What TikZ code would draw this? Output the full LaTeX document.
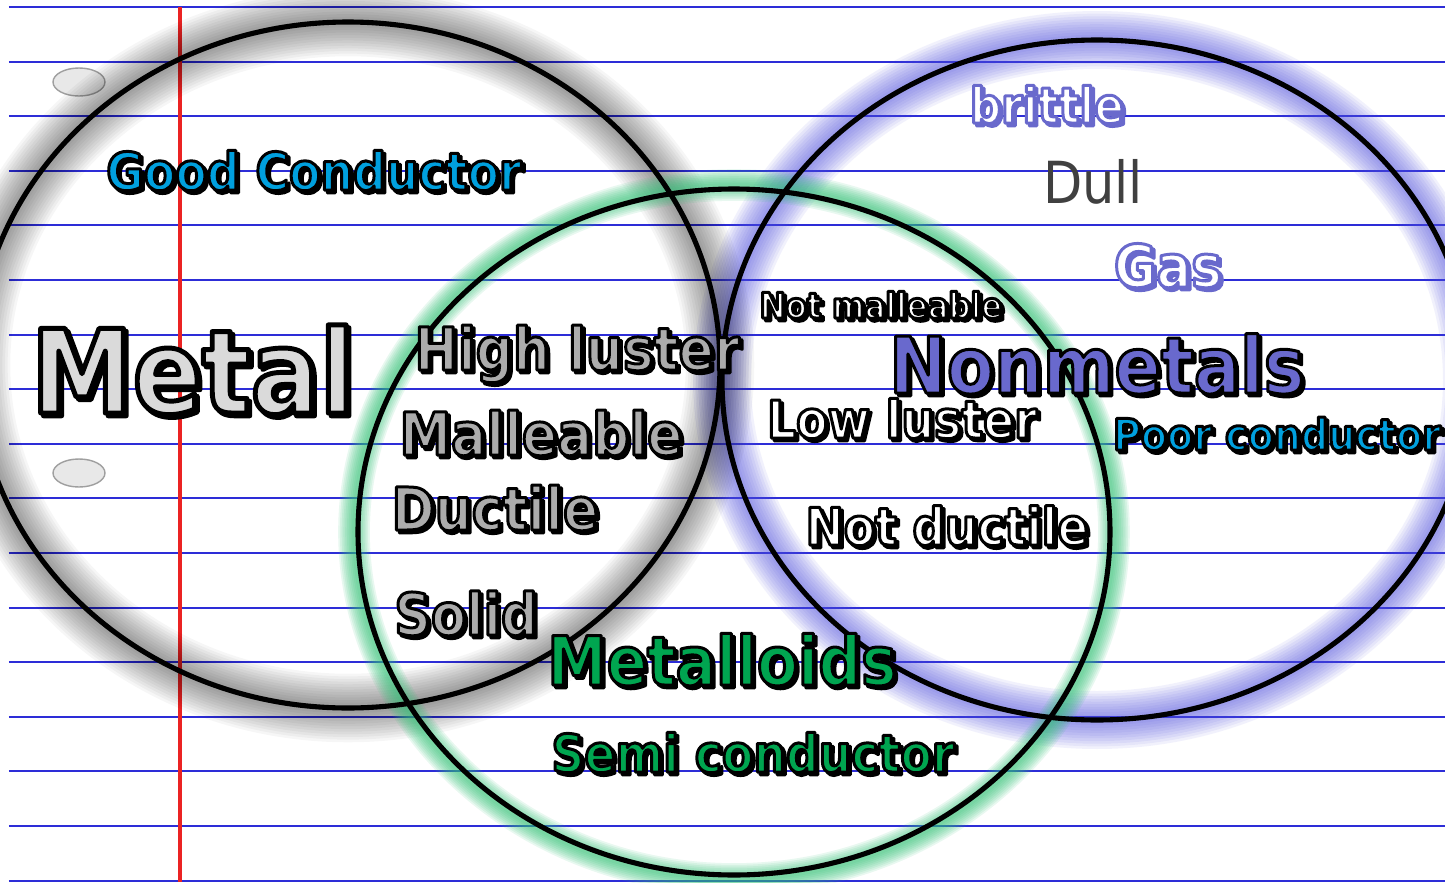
\documentclass[tikz,border=0pt]{standalone}
\usepackage{fontspec}
\usepackage{tikz}
\usetikzlibrary{calc}
\usepackage{xcolor}
\newfontfamily\vennfont{DejaVu Sans}[FakeStretch=0.88]
\definecolor{lineblue}{RGB}{45,45,215}
\definecolor{marginred}{RGB}{235,35,35}
\definecolor{condblue}{RGB}{0,160,222}
\definecolor{loidgreen}{RGB}{0,165,80}
\definecolor{nonpurple}{RGB}{105,105,205}
\definecolor{metalgray}{RGB}{172,172,172}
\definecolor{metallight}{RGB}{218,218,218}
\definecolor{dullgray}{RGB}{64,64,64}
\definecolor{glowgreen}{RGB}{50,195,120}
\definecolor{glowblue}{RGB}{80,80,225}
% stroked letters: fill in the current colour, outline rgb #1
\newcommand{\strokew}{0.85}
\newcommand{\outl}[2]{%
  \special{pdf:literal direct 1 j #1 RG \strokew\space w 2 Tr}#2%
  \special{pdf:literal direct 0 Tr}}
% fill, shadow colour, outline rgb, text
\newcommand{\fancy}[4]{%
  \rlap{\kern0.8pt\raisebox{-0.8pt}{\color{#2}\outl{#3}{#4}}}%
  {\color{#1}\outl{#3}{#4}}}

\begin{document}
\begin{tikzpicture}[x=1cm, y=1cm,
                    paperline/.style={lineblue, line width=0.6pt},
                    ring/.style={black, line width=1.45pt},
                    hole/.style={draw=gray!75, fill=gray!18, line width=0.4pt},
                    word/.style={inner sep=0pt, anchor=base,
                                 font=\vennfont\bfseries\fontsize{#1}{#1}\selectfont}]
  \useasboundingbox (0,0) rectangle (14.45,8.82);
  \clip (0,0) rectangle (14.45,8.82);
  \fill[white] (0,0) rectangle (14.45,8.82);
  % ruled sheet
  \foreach \k in {0,...,16}
    \draw[paperline] (0.09,8.75-0.546*\k) -- (14.45,8.75-0.546*\k);
  \draw[marginred, line width=0.9pt] (1.80,8.75) -- (1.80,0);
  \draw[hole] (0.79,8.00) ellipse [x radius=0.26, y radius=0.14];
  \draw[hole] (0.79,4.09) ellipse [x radius=0.26, y radius=0.14];
  % circle centres
  \coordinate (M) at (3.48,5.17);
  \coordinate (L) at (7.34,3.50);
  \coordinate (N) at (10.97,5.02);
  % soft halos
  \foreach \w in {1.5,3,...,16.5}
    \draw[glowblue, opacity=0.075, line width=\w pt] (N) ellipse [x radius=3.75, y radius=3.40];
  \foreach \w in {1.5,3,...,19.5}
    \draw[black, opacity=0.035, line width=\w pt] (M) ellipse [x radius=3.72, y radius=3.43];
  \foreach \w in {1,2,...,9}
    \draw[glowgreen, opacity=0.11, line width=\w pt] (L) ellipse [x radius=3.80, y radius=3.47];
  % the three sets
  \draw[ring] (M) ellipse [x radius=3.72, y radius=3.43];
  \draw[ring] (L) ellipse [x radius=3.76, y radius=3.43];
  \draw[ring] (N) ellipse [x radius=3.75, y radius=3.40];
  % metals
  \node[word=14.8] (good) at (3.14,6.92) {\fancy{condblue}{black}{0 0 0}{Good Conductor}};
  \node[word=33] (metal) at (1.93,4.69)
       {\renewcommand{\strokew}{1.4}\fancy{metallight}{black}{0 0 0}{Metal}};
  \node[word=16.8] (luster) at (5.77,5.12) {\fancy{metalgray}{black}{0 0 0}{High luster}};
  \node[word=16.8] (malle) at (5.41,4.27) {\fancy{metalgray}{black}{0 0 0}{Malleable}};
  \node[word=16.8] (duct) at (4.95,3.52) {\fancy{metalgray}{black}{0 0 0}{Ductile}};
  \node[word=16.5] (solid) at (4.66,2.47) {\fancy{metalgray}{black}{0 0 0}{Solid}};
  % metalloids
  \node[word=19.3] (loids) at (7.22,1.97) {\fancy{loidgreen}{black}{0 0 0}{Metalloids}};
  \node[word=14.8] (semi) at (7.53,1.10) {\fancy{loidgreen}{black}{0 0 0}{Semi conductor}};
  % nonmetals
  \node[word=14.1] (brit) at (10.47,7.59) {\fancy{white}{nonpurple}{0.41 0.41 0.80}{brittle}};
  \node[word=16.5, font=\vennfont\fontsize{16.5}{16.5}\selectfont, text=dullgray]
       (dull) at (10.93,6.79) {Dull};
  \node[word=16.7] (gas) at (11.68,5.95) {\fancy{white}{nonpurple}{0.41 0.41 0.80}{Gas}};
  \node[word=10] (notmal) at (8.81,5.64) {\fancy{white}{black}{0 0 0}{Not malleable}};
  \node[word=22.2] (nonmet) at (10.97,4.89) {\fancy{nonpurple}{black}{0 0 0}{Nonmetals}};
  \node[word=14.8] (low) at (9.02,4.44) {\fancy{white}{black}{0 0 0}{Low luster}};
  \node[word=12.3] (poor) at (12.77,4.32) {\fancy{condblue}{black}{0 0 0}{Poor conductor}};
  \node[word=14.7] (notduct) at (9.47,3.37) {\fancy{white}{black}{0 0 0}{Not ductile}};
\end{tikzpicture}
\end{document}
